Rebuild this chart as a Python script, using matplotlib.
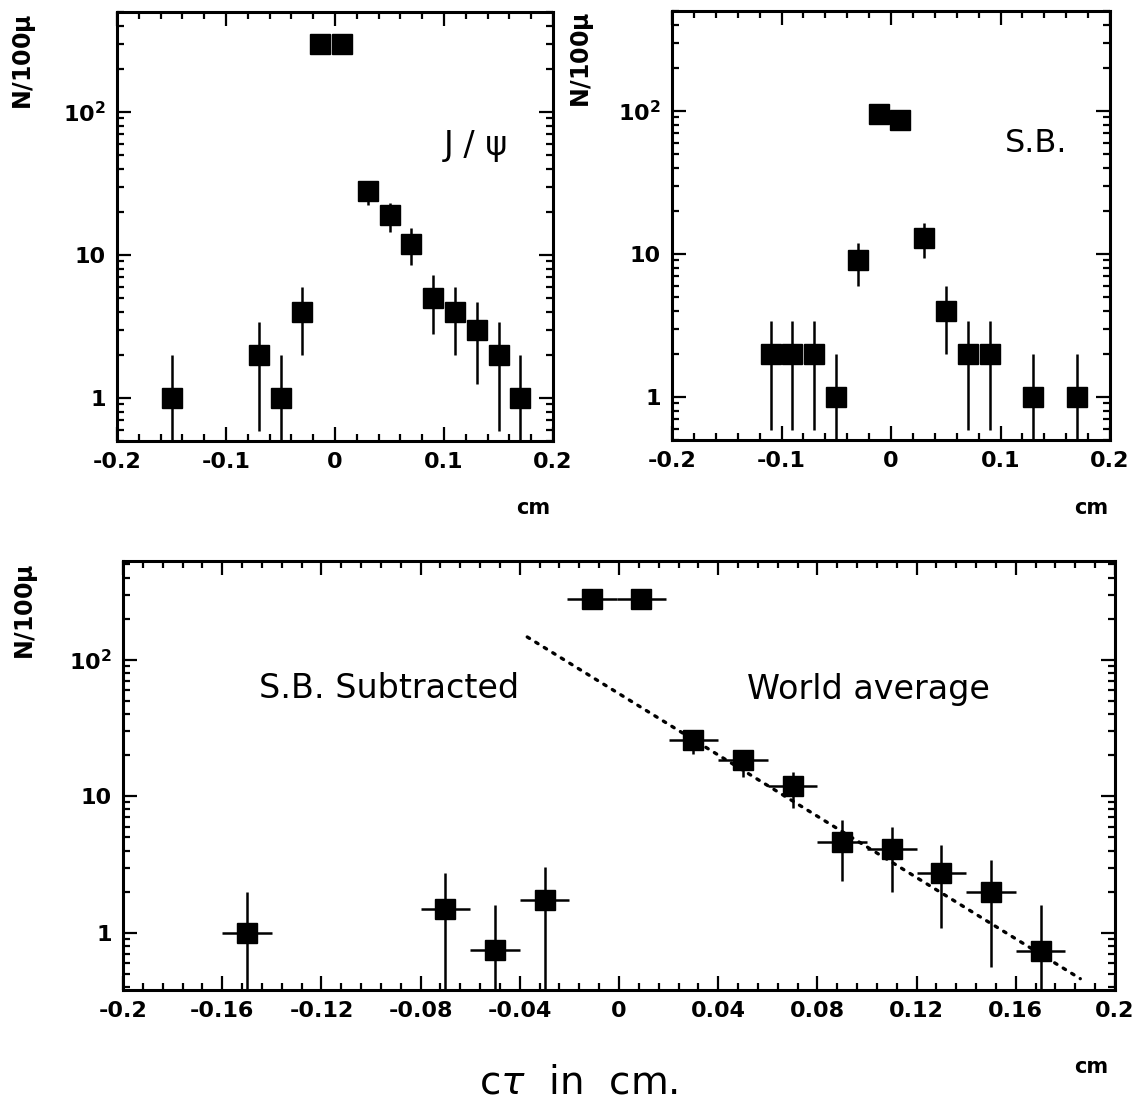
import numpy as np
import matplotlib
matplotlib.use("Agg")
import matplotlib.pyplot as plt
from matplotlib.ticker import FixedLocator, MultipleLocator, LogLocator, NullFormatter

# ---------------- data ----------------
# J/psi signal region
jpsi_x  = [-0.15, -0.07, -0.05, -0.03, -0.014, 0.006, 0.03, 0.05, 0.07, 0.09, 0.11, 0.13, 0.15, 0.17]
jpsi_y  = [1, 2, 1, 4, 300, 300, 28, 19, 12, 5, 4, 3, 2, 1]
jpsi_lo = [0, 0.59, 0, 2, 283, 283, 22.5, 14.5, 8.5, 2.8, 2, 1.25, 0.59, 0]
jpsi_hi = [2, 3.4, 2, 6, 317, 317, 32, 23, 15.5, 7.2, 6, 4.7, 3.4, 2]

# side bands
sb_x  = [-0.11, -0.09, -0.07, -0.05, -0.03, -0.011, 0.008, 0.03, 0.05, 0.07, 0.09, 0.13, 0.17]
sb_y  = [2, 2, 2, 1, 9, 95, 87, 13, 4, 2, 2, 1, 1]
sb_lo = [0.59, 0.59, 0.59, 0, 6, 85, 78, 9.4, 2, 0.59, 0.59, 0, 0]
sb_hi = [3.4, 3.4, 3.4, 2, 12, 105, 96, 16.5, 6, 3.4, 3.4, 2, 2]

# side-band subtracted
sub_x    = [-0.15, -0.07, -0.05, -0.03, -0.011, 0.009, 0.03, 0.05, 0.07, 0.09, 0.11, 0.13, 0.15, 0.17]
sub_y    = [1.0, 1.5, 0.75, 1.75, 280, 280, 26, 18.5, 11.9, 4.6, 4.1, 2.75, 2.0, 0.74]
sub_lo   = [0, 0, 0, 0, 263, 263, 20.5, 13.9, 8.2, 2.4, 2.0, 1.09, 0.56, 0]
sub_hi   = [2.0, 2.75, 1.6, 3.05, 297, 297, 29.7, 21.9, 15.1, 6.7, 6.0, 4.4, 3.4, 1.6]
sub_xerr = [0.01] * 14

# world-average lifetime line
wa_x = [-0.037, 0.186]
wa_y = [147, 0.46]

ytick_vals = [1, 10, 100]
ytick_labels = ["1", "10", r"$\mathbf{10^{2}}$"]

# ---------------- figure ----------------
W, H = 1138, 1100
fig = plt.figure(figsize=(W / 100, H / 100), dpi=100)
plt.rcParams["font.family"] = ["DejaVu Sans"]


def px_axes(l, r, t, b):
    return fig.add_axes([l / W, 1 - b / H, (r - l) / W, (b - t) / H])


def style(ax, ylim, minor, xticks, xlabels):
    ax.set_yscale("log")
    ax.set_xlim(-0.2, 0.2)
    ax.set_ylim(*ylim)
    ax.yaxis.set_major_locator(FixedLocator(ytick_vals))
    ax.set_yticklabels(ytick_labels)
    ax.yaxis.set_minor_locator(LogLocator(base=10, subs=np.arange(2, 10)))
    ax.yaxis.set_minor_formatter(NullFormatter())
    ax.xaxis.set_major_locator(FixedLocator(xticks))
    ax.set_xticklabels(xlabels)
    ax.xaxis.set_minor_locator(MultipleLocator(minor))
    ax.tick_params(which="both", direction="in", top=True, right=True, width=1.6)
    ax.tick_params(which="major", length=10, labelsize=16, pad=8)
    ax.tick_params(which="minor", length=5)
    for lab in ax.get_xticklabels() + ax.get_yticklabels():
        lab.set_fontweight("bold")
    for s in ax.spines.values():
        s.set_linewidth(2.2)


def draw(ax, x, y, lo, hi, xerr=None):
    y = np.asarray(y, float)
    yerr = [y - np.asarray(lo, float), np.asarray(hi, float) - y]
    ax.errorbar(x, y, yerr=yerr, xerr=xerr, fmt="s", color="black",
                markersize=14, elinewidth=1.8, capsize=0, zorder=3)


top_xt = [-0.2, -0.1, 0, 0.1, 0.2]
top_xl = ["-0.2", "-0.1", "0", "0.1", "0.2"]

ax1 = px_axes(117, 553, 12, 441)
style(ax1, (0.5, 500), 0.02, top_xt, top_xl)
draw(ax1, jpsi_x, jpsi_y, jpsi_lo, jpsi_hi)

ax2 = px_axes(672, 1110, 11, 440)
style(ax2, (0.5, 500), 0.02, top_xt, top_xl)
draw(ax2, sb_x, sb_y, sb_lo, sb_hi)

bot_xt = [-0.2, -0.16, -0.12, -0.08, -0.04, 0, 0.04, 0.08, 0.12, 0.16, 0.2]
bot_xl = ["-0.2", "-0.16", "-0.12", "-0.08", "-0.04", "0", "0.04", "0.08", "0.12", "0.16", "0.2"]
ax3 = px_axes(123, 1115, 561, 990)
style(ax3, (0.38, 530), 0.008, bot_xt, bot_xl)
draw(ax3, sub_x, sub_y, sub_lo, sub_hi, xerr=sub_xerr)
ax3.plot(wa_x, wa_y, color="black", linestyle=(0, (0.8, 2.2)), linewidth=2.4,
         dash_capstyle="round", zorder=2)


def ftext(x, y, s, **kw):
    fig.text(x / W, 1 - y / H, s, **kw)


# y labels
for (x, y) in [(24, 62), (582, 60), (27, 612)]:
    ftext(x, y, r"N/100$\mathbf{\mu}$", rotation=90, ha="center", va="center",
          fontsize=17, fontweight="bold")

# cm labels
for (x, y) in [(533, 508), (1091, 508), (1091, 1067)]:
    ftext(x, y, "cm", ha="center", va="center", fontsize=15, fontweight="bold")

ftext(476, 146, "J / ψ", ha="center", va="center", fontsize=24)
ftext(1036, 143, "S.B.", ha="center", va="center", fontsize=23)
ftext(389, 689, "S.B. Subtracted", ha="center", va="center", fontsize=24)
ftext(868, 689, "World average", ha="center", va="center", fontsize=24)
ftext(579, 1082, r"c$\tau$  in  cm.", ha="center", va="center", fontsize=28)

fig.savefig("out.png", dpi=100)
